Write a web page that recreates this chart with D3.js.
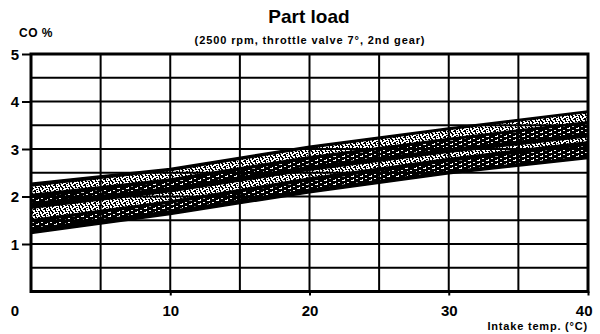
<!DOCTYPE html>
<html><head><meta charset="utf-8">
<script src="https://cdn.jsdelivr.net/npm/d3@7"></script>
<style>
body{margin:0;background:#fff}
svg{display:block}
text{font-family:"Liberation Sans",Arial,sans-serif;font-weight:bold;fill:#000}
</style>
</head><body>
<svg id="c" width="600" height="334"></svg>
<script>
// ---- data ----
const xSamples = [0, 10, 20, 30, 40];
const bandLower = [1.22, 1.62, 2.08, 2.48, 2.80];
const bandUpper = [2.28, 2.59, 3.06, 3.44, 3.80];
const yTickValues = [1, 2, 3, 4, 5];
const xTickValues = [0, 10, 20, 30, 40];
const xGridValues = [0, 5, 10, 15, 20, 25, 30, 35, 40];
const yGridValues = [0.5, 1, 1.5, 2, 2.5, 3, 3.5, 4, 4.5, 5];
// stippled strips inside the band: fraction of band height from the top, at x=0 and x=40
const stripTopLeft = [0.07, 0.30, 0.51, 0.78];
const stripBottomLeft = [0.21, 0.38, 0.71, 0.89];
const stripTopRight = [0.04, 0.27, 0.56, 0.73];
const stripBottomRight = [0.21, 0.46, 0.63, 0.94];
const stripKind = ["dense", "sparse", "dense", "sparse"];
const titleText = "Part load";
const subtitleText = "(2500 rpm, throttle valve 7°, 2nd gear)";
const yLabelText = "CO %";
const xLabelText = "Intake temp. (°C)";

// ---- chart ----
const svg = d3.select("#c");
const x = d3.scaleLinear().domain([0, 40]).range([31, 588]);
const y = d3.scaleLinear().domain([0, 5]).range([291.5, 54]);

const defs = svg.append("defs");
function pattern(id, specks, bg, fg, w, h) {
  const p = defs.append("pattern").attr("id", id).attr("patternUnits", "userSpaceOnUse")
    .attr("width", w).attr("height", h);
  p.append("rect").attr("width", w).attr("height", h).attr("fill", bg);
  p.selectAll("rect.s").data(specks).join("rect").attr("class", "s")
    .attr("x", d => d[0]).attr("y", d => d[1]).attr("width", d => d[2]).attr("height", d => d[3])
    .attr("fill", fg);
}
pattern("dense", [[0,0,2,1],[5,0,1,2],[8,1,2,1],[2,2,2,1],[6,3,2,1],[0,4,1,2],[3,5,3,1],[9,4,1,1],[7,5,1,1],
                  [1,1,2,1],[4,4,2,1],[6,1,1,1],[9,2,1,2],[2,3,1,1]], "#fff", "#000", 10, 6);
pattern("sparse", [[0,0,3,1],[5,2,2,1],[2,3,1,1]], "#000", "#fff", 9, 4);

const lower = xSamples.map((v, i) => [v, bandLower[i]]);
const upper = xSamples.map((v, i) => [v, bandUpper[i]]);

const area = d3.area().x(d => x(d.x)).y0(d => y(d.lo)).y1(d => y(d.hi));
const bandData = xSamples.map((v, i) => ({x: v, lo: bandLower[i], hi: bandUpper[i]}));
svg.append("path").datum(bandData).attr("d", area).attr("fill", "#000");

// strips
stripKind.forEach((kind, k) => {
  const pts = xSamples.map((v, i) => {
    const t = v / 40;
    const fTop = stripTopLeft[k] + (stripTopRight[k] - stripTopLeft[k]) * t;
    const fBot = stripBottomLeft[k] + (stripBottomRight[k] - stripBottomLeft[k]) * t;
    const h = bandUpper[i] - bandLower[i];
    return {x: v, hi: bandUpper[i] - fTop * h, lo: bandUpper[i] - fBot * h};
  });
  svg.append("path").datum(pts)
    .attr("d", area)
    .attr("fill", `url(#${kind})`);
});

// grid
svg.append("g").selectAll("line").data(yGridValues).join("line")
  .attr("x1", x(0)).attr("x2", x(40)).attr("y1", d => y(d)).attr("y2", d => y(d))
  .attr("stroke", "#000").attr("stroke-width", 2);
svg.append("g").selectAll("line").data(xGridValues).join("line")
  .attr("y1", y(0)).attr("y2", y(5)).attr("x1", d => x(d)).attr("x2", d => x(d))
  .attr("stroke", "#000").attr("stroke-width", 2);
svg.append("rect").attr("x", x(0)).attr("y", y(5)).attr("width", x(40) - x(0)).attr("height", y(0) - y(5))
  .attr("fill", "none").attr("stroke", "#000").attr("stroke-width", 3);

// band outline
svg.append("path").datum(upper).attr("d", d3.line().x(d => x(d[0])).y(d => y(d[1])))
  .attr("fill", "none").attr("stroke", "#000").attr("stroke-width", 1.5);
svg.append("path").datum(lower).attr("d", d3.line().x(d => x(d[0])).y(d => y(d[1])))
  .attr("fill", "none").attr("stroke", "#000").attr("stroke-width", 1.5);

// y axis
const yAxis = d3.axisLeft(y).tickValues(yTickValues).tickSize(9).tickPadding(3).tickFormat(d3.format("d"));
const ga = svg.append("g").attr("transform", `translate(${x(0)},0)`).call(yAxis);
ga.select(".domain").remove();
ga.selectAll("line").attr("stroke", "#000").attr("stroke-width", 2);
ga.selectAll("text").style("font-size", "15px").attr("dy", "0.36em");

// x axis
const xAxis = d3.axisBottom(x).tickValues(xTickValues.filter(v => v > 0)).tickSize(4).tickPadding(10).tickFormat(d3.format("d"));
const gx = svg.append("g").attr("transform", `translate(0,${y(0)})`).call(xAxis);
gx.select(".domain").remove();
gx.selectAll("line").attr("stroke", "#000").attr("stroke-width", 2);
gx.selectAll("text").style("font-size", "15px");
gx.selectAll(".tick").filter(d => d === 40).select("text").attr("text-anchor", "end").attr("x", 4);
svg.append("text").attr("x", 15).attr("y", 316).attr("text-anchor", "middle").style("font-size", "15px").text(xTickValues[0]);

// titles
svg.append("text").attr("x", 309).attr("y", 23).attr("text-anchor", "middle").style("font-size", "19px").text(titleText);
svg.append("text").attr("x", 310).attr("y", 44).attr("text-anchor", "middle").style("font-size", "11px")
  .style("letter-spacing", "0.9px").text(subtitleText);
svg.append("text").attr("x", 19).attr("y", 37).style("font-size", "12px").style("letter-spacing", "0.5px").text(yLabelText);
svg.append("text").attr("x", 588).attr("y", 330).attr("text-anchor", "end").style("font-size", "11px")
  .style("letter-spacing", "0.8px").text(xLabelText);
</script>
</body></html>
